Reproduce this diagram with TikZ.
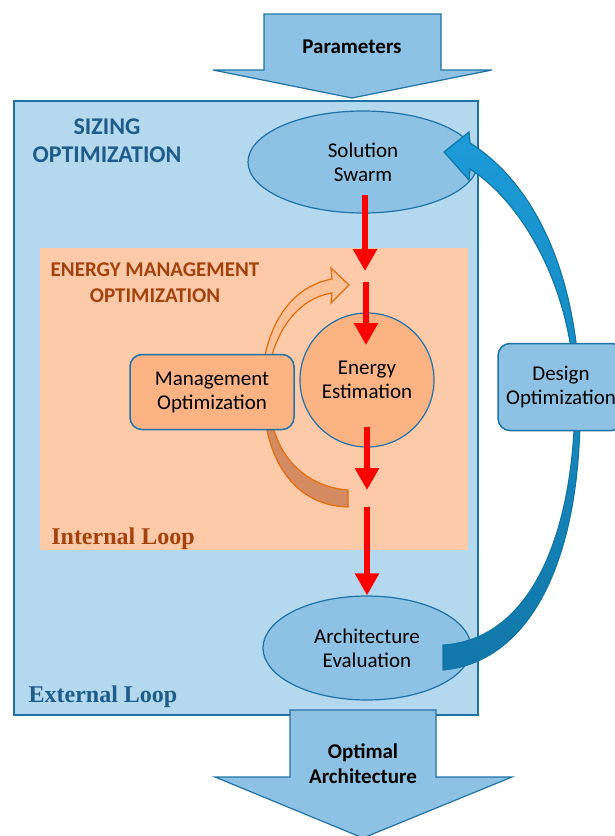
\documentclass[tikz,border=0pt]{standalone}
\usepackage{fontspec}
\setmainfont{Carlito}
\newfontfamily\loopfont{Liberation Serif}
\usetikzlibrary{arrows.meta,shapes.geometric}

\definecolor{boxblue}{HTML}{B4D8EE}
\definecolor{lineblue}{HTML}{1F72A6}
\definecolor{fillblue}{HTML}{8DC2E4}
\definecolor{darkblue}{HTML}{1F5C8A}
\definecolor{peach}{HTML}{FCCAA9}
\definecolor{apricot}{HTML}{FBB384}
\definecolor{lightapricot}{HTML}{FBC29A}
\definecolor{rust}{HTML}{A3420C}
\definecolor{pumpkin}{HTML}{E46C0A}
\definecolor{clay}{HTML}{D48B61}
\definecolor{loopblue}{HTML}{1C9BD7}
\definecolor{loopdark}{HTML}{1277A8}

\tikzset{
  txt/.style={font=\fontsize{21}{24}\selectfont, align=center},
  bubble/.style={ellipse, draw=lineblue, line width=1.2pt, fill=fillblue, inner sep=0pt, txt},
  rbox/.style={rectangle, rounded corners=12pt, draw=lineblue, line width=1.5pt, inner sep=0pt, txt},
  flow/.style={red, line width=6pt, -{Triangle[length=22pt,width=23pt]}},
  bigarrow/.style={fill=fillblue, draw=lineblue, line width=1.2pt},
}

\begin{document}
\begin{tikzpicture}[x=1pt,y=-1pt]
        \useasboundingbox (0,0) rectangle (615,836);

        % Sizing loop
        \draw[fill=boxblue, draw=lineblue, line width=1.5pt] (14,101) rectangle (478,715);
        \draw[bigarrow] (264,14) -- (441,14) -- (441,70) -- (492,70) -- (352,98) -- (213,70) -- (264,70) -- cycle;
        \node[txt, font=\fontsize{21}{24}\selectfont\bfseries] (param) at (352,47) {Parameters};
        \node[txt, font=\fontsize{24}{28}\selectfont\bfseries, text=darkblue] (sizing) at (107,141) {SIZING\\OPTIMIZATION};

        % Energy management loop
        \fill[peach] (40,248) rectangle (468,550);
        \node[txt, font=\fontsize{21}{26}\selectfont\bfseries, text=rust] (emo) at (155,283) {ENERGY MANAGEMENT\\OPTIMIZATION};
        \node[font=\fontsize{24}{28}\selectfont\loopfont\bfseries, text=rust] (internal) at (123,539) {Internal Loop};
        \draw[pumpkin, line width=1.2pt, fill=lightapricot] (265,355) .. controls (275,310) and (300,285) .. (332,279) -- (331,268) -- (349,285) -- (331,303) -- (332,293) .. controls (306,297) and (283,318) .. (272,355) -- cycle;
        \draw[pumpkin, line width=1.2pt, fill=clay] (267,430) .. controls (278,482) and (310,506) .. (348,507) -- (348,490) .. controls (318,488) and (286,470) .. (274,430) -- cycle;
        \node[rbox, fill=apricot, minimum width=164pt, minimum height=75pt] (mgmt) at (212,392) {Management\\Optimization};
        \node[circle, draw=lineblue, line width=1.2pt, fill=apricot, minimum size=134pt, inner sep=0pt, txt] (energy) at (367,380) {Energy\\Estimation};

        \node[bubble, minimum width=230pt, minimum height=102pt] (swarm) at (363,162) {Solution\\Swarm};
        \node[bubble, minimum width=208pt, minimum height=104pt] (arch) at (367,648) {Architecture\\Evaluation};
        \node[font=\fontsize{24}{28}\selectfont\loopfont\bfseries, text=darkblue] (external) at (103,697) {External Loop};

        % Design loop
        \shade[top color=loopblue, middle color=loopblue!70!loopdark, bottom color=loopdark, draw=loopdark, line width=1.2pt]
          (443,670) .. controls (530,662) and (582,560) .. (580,400) .. controls (578,270) and (532,182) .. (470,143)
          -- (469,132) -- (444,152) -- (469,180) -- (470,169)
          .. controls (522,202) and (575,290) .. (575,400) .. controls (574,540) and (528,640) .. (443,645) -- cycle;
        \node[rbox, fill=fillblue, minimum width=126pt, minimum height=87pt] (design) at (561,387) {Design\\Optimization};

        % red flow
        \coordinate (r1a) at (365,195);
        \coordinate (r1b) at (365,271);
        \coordinate (r2a) at (366,282);
        \coordinate (r2b) at (366,345);
        \coordinate (r3a) at (367,427);
        \coordinate (r3b) at (367,490);
        \coordinate (r4a) at (367,507);
        \draw[flow] (r1a) -- (r1b);
        \draw[flow] (r2a) -- (r2b);
        \draw[flow] (r3a) -- (r3b);
        \draw[flow] (r4a) -- (arch.north);

        % Output
        \draw[bigarrow] (290,710) -- (436,710) -- (436,777) -- (512,777) -- (363,838) -- (215,777) -- (290,777) -- cycle;
        \node[txt, font=\fontsize{21}{25}\selectfont\bfseries] (optimal) at (363,764) {Optimal\\Architecture};
\end{tikzpicture}
\end{document}
